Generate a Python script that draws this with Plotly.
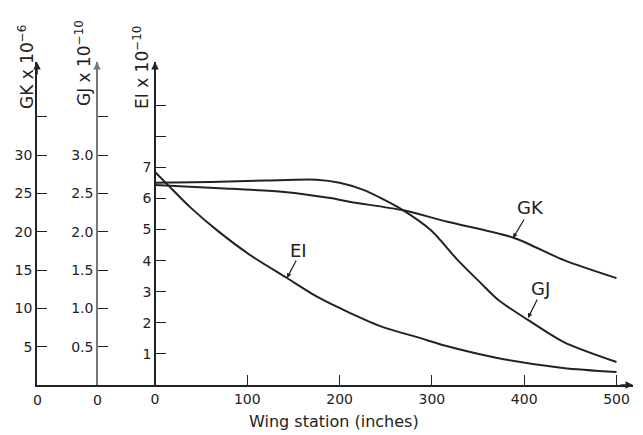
import plotly.graph_objects as go

# ---- data ----
ei_x = [0, 16, 38, 67, 103, 143, 176, 211, 247, 284, 320, 371, 442, 500]
ei_y = [6.85, 6.37, 5.72, 4.98, 4.18, 3.44, 2.83, 2.32, 1.86, 1.54, 1.22, 0.87, 0.55, 0.42]

gk_x = [0, 70, 140, 190, 212, 269, 317, 389, 443, 500]
gk_y = [26.1, 25.7, 25.2, 24.4, 23.9, 22.8, 21.3, 19.2, 16.3, 13.95]

gj_x = [0, 60, 120, 175, 200, 225, 248, 269, 299, 328, 353, 372, 404, 443, 500]
gj_y = [2.64, 2.65, 2.67, 2.68, 2.64, 2.55, 2.42, 2.28, 2.02, 1.63, 1.33, 1.11, 0.85, 0.56, 0.30]

x_ticks = [0, 100, 200, 300, 400, 500]
gk_ticks = [5, 10, 15, 20, 25, 30, 35]
gk_labels = ["5", "10", "15", "20", "25", "30", ""]
gj_ticks = [0.5, 1.0, 1.5, 2.0, 2.5, 3.0, 3.5]
gj_labels = ["0.5", "1.0", "1.5", "2.0", "2.5", "3.0", ""]
ei_ticks = [1, 2, 3, 4, 5, 6, 7, 8, 9]
ei_labels = ["1", "2", "3", "4", "5", "6", "7", "", ""]

FONT = "DejaVu Sans"
INK = "#222"

OFF = 8   # page body margin: figure is drawn 8px in from the window corner
W, H = 643 - OFF, 435 - OFF
L, R, T, B = 37 - OFF, 18 - OFF, 62 - OFF, 50
pw = W - L - R
ph = H - T - B
xscale = 0.923          # px per inch
x0px = 155 - OFF        # pixel of wing station 0 (figure coords)
xmin = -(x0px - L) / xscale
xmax = (W - R - x0px) / xscale
ei_max = ph / 31.1
gk_max = ph / 7.66
gj_max = ph / 76.6

pos_gj = (97 - OFF - L) / pw
pos_ei = (x0px - L) / pw

line = dict(color=INK, width=2, shape="spline", smoothing=0.8)
fig = go.Figure()
fig.add_trace(go.Scatter(x=gk_x, y=gk_y, mode="lines", line=line, yaxis="y", showlegend=False))
fig.add_trace(go.Scatter(x=gj_x, y=gj_y, mode="lines", line=line, yaxis="y2", showlegend=False))
fig.add_trace(go.Scatter(x=ei_x, y=ei_y, mode="lines", line=line, yaxis="y3", showlegend=False))

tickfont = dict(family=FONT, size=14, color=INK)

def yax(color):
    return dict(showgrid=False, zeroline=False, showline=True, linecolor=color, linewidth=1.5,
                ticks="inside", ticklen=10, tickwidth=1.2, tickcolor=INK, tickfont=tickfont,
                fixedrange=True, automargin=False)

fig.update_layout(
    width=W, height=H, margin=dict(l=L, r=R, t=T, b=B),
    paper_bgcolor="white", plot_bgcolor="white",
    xaxis=dict(range=[xmin, xmax], showgrid=False, zeroline=False, showline=True,
               linecolor=INK, linewidth=1.5, ticks="inside", ticklen=10, tickwidth=1.2,
               tickcolor=INK, tickvals=x_ticks, tickfont=tickfont, automargin=False),
    yaxis=dict(range=[0, gk_max], tickvals=gk_ticks, ticktext=gk_labels, **yax(INK)),
    yaxis2=dict(range=[0, gj_max], tickvals=gj_ticks, ticktext=gj_labels, overlaying="y",
                anchor="free", position=pos_gj, side="left", **yax("#777")),
    yaxis3=dict(range=[0, ei_max], tickvals=ei_ticks, ticktext=ei_labels, overlaying="y",
                anchor="free", position=pos_ei, side="left", **yax(INK)),
)

# page pixel -> paper coords
def px2paper_x(px):
    return (px - OFF - L) / pw
def py2paper_y(py):
    return (H - B - (py - OFF)) / ph

ann = []
# axis arrows
for p, c in [(0, INK), (pos_gj, "#777"), (pos_ei, INK)]:
    ann.append(dict(x=p, y=1.0, xref="paper", yref="paper", ax=0, ay=14, text="", showarrow=True,
                    arrowhead=2, arrowsize=1, arrowwidth=1.5, arrowcolor=c))
ann.append(dict(x=1.0, y=0, xref="paper", yref="paper", ax=-14, ay=0, text="", showarrow=True,
                arrowhead=2, arrowsize=1, arrowwidth=1.5, arrowcolor=INK))
# zero labels under GK and GJ axes
for p in [0, pos_gj]:
    ann.append(dict(x=p, y=0, xref="paper", yref="paper", text="0", showarrow=False,
                    xanchor="center", yanchor="top", yshift=-5, font=tickfont))
# x-axis title
ann.append(dict(x=px2paper_x(334), y=py2paper_y(421), xref="paper", yref="paper",
                text="Wing station (inches)", showarrow=False, xanchor="center", yanchor="middle",
                font=dict(family=FONT, size=16, color=INK)))
# axis titles (rotated)
titles = [("GK x 10<sup>−6</sup>", 26, 67), ("GJ x 10<sup>−10</sup>", 83, 63), ("EI x 10<sup>−10</sup>", 141, 68)]
for txt, px, py in titles:
    ann.append(dict(x=px2paper_x(px), y=py2paper_y(py), xref="paper", yref="paper", text=txt,
                    textangle=-90, showarrow=False, xanchor="center", yanchor="middle",
                    font=dict(family=FONT, size=17, color=INK)))
# curve labels with pointer arrows (positions given in page pixels)
def wx(px):
    return (px - OFF - x0px) / xscale
def ey(py):
    return (H - B - (py - OFF)) / 31.1

labels = [("GK", 530, 207, 513, 238, 12, -20),
          ("GJ", 540, 288, 528, 318, 10, -20),
          ("EI", 298, 250, 287, 278, 10, -19)]
for txt, tx, ty, hx, hy, dx, dy in labels:
    ann.append(dict(x=wx(tx), y=ey(ty), xref="x", yref="y3", text=txt, showarrow=False,
                    xanchor="center", yanchor="middle",
                    font=dict(family=FONT, size=18, color=INK)))
    ann.append(dict(x=wx(hx), y=ey(hy), xref="x", yref="y3", ax=dx, ay=dy, text="",
                    showarrow=True, arrowhead=2, arrowsize=0.8, arrowwidth=1.2, arrowcolor=INK))
fig.update_layout(annotations=ann)

fig.write_html("out.html")
